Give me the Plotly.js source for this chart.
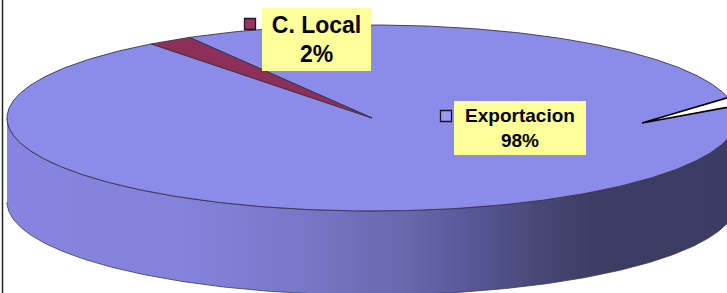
<!DOCTYPE html>
<html><head><meta charset="utf-8">
<script src="https://cdn.plot.ly/plotly-3.0.1.min.js"></script>
<style>html,body{margin:0;padding:0;background:#fff;overflow:hidden}#chart{width:727px;height:293px}</style>
</head><body><div id="chart"></div><script>
// ---- data ----
const categories = ['C. Local', 'Exportacion'];
const values = [2, 98];

// ---- style / geometry ----
const sliceColors = ['#8E2F5A', '#8B8BEA'];
const keyColors = ['#993366', '#9999FF'];
const labelBoxes = [
  {x: 316, y: 39.5, w: 109, h: 63, size: 23, key: [250, 24]},
  {x: 520, y: 128, w: 132, h: 54, size: 19, key: [446, 116]}
];
const cx = 372, cy = 118, rx = 365, ry = 93, depth = 84;
const startAngle = 120; // degrees (counter-clockwise) where the first slice begins
const edge = '#34344a';

function pt(deg, dy) {
  const t = deg * Math.PI / 180;
  return [cx + rx * Math.cos(t), cy - ry * Math.sin(t) + (dy || 0)];
}

const total = values.reduce((a, b) => a + b, 0);
const traces = [];

// side wall (front half of the disc)
const sx = [], sy = [];
for (let d = 180; d <= 360; d += 0.5) { const p = pt(d); sx.push(p[0]); sy.push(p[1]); }
for (let d = 360; d >= 180; d -= 0.5) { const p = pt(d, depth); sx.push(p[0]); sy.push(p[1]); }
traces.push({
  type: 'scatter', mode: 'lines', x: sx, y: sy, fill: 'toself',
  line: {color: '#3a3a52', width: 0.8},
  fillgradient: {type: 'horizontal', colorscale: [
    [0, '#8585DF'], [0.24, '#8383DC'], [0.40, '#7878C8'], [0.54, '#6868AE'],
    [0.63, '#58589A'], [0.72, '#494979'], [0.80, '#3D3D64'], [1, '#3C3C62']
  ]},
  hoverinfo: 'skip'
});

// top slices
let a = startAngle;
const tops = [];
values.forEach((v, i) => {
  const span = 360 * v / total;
  const xs = [cx], ys = [cy];
  const steps = Math.max(8, Math.ceil(span * 2));
  for (let k = 0; k <= steps; k++) {
    const p = pt(a + span * k / steps); xs.push(p[0]); ys.push(p[1]);
  }
  xs.push(cx); ys.push(cy);
  tops.push({
    type: 'scatter', mode: 'lines', x: xs, y: ys, fill: 'toself',
    fillcolor: sliceColors[i], line: {color: edge, width: 0.9},
    name: categories[i], hoverinfo: 'skip'
  });
  a += span;
});
// draw big slice first, small on top
traces.push(tops[1], tops[0]);

// legend keys next to labels
traces.push({
  type: 'scatter', mode: 'markers',
  x: labelBoxes.map(b => b.key[0]), y: labelBoxes.map(b => b.key[1]),
  marker: {symbol: 'square', size: 11, color: keyColors, line: {color: '#1a1a1a', width: 1.3}},
  hoverinfo: 'skip'
});

const annotations = categories.map((c, i) => ({
  x: labelBoxes[i].x, y: labelBoxes[i].y, xref: 'x', yref: 'y',
  text: '<b>' + c + '<br>' + Math.round(100 * values[i] / total) + '%</b>',
  showarrow: false, width: labelBoxes[i].w, height: labelBoxes[i].h,
  bgcolor: '#FFFF99', borderpad: 0, borderwidth: 0,
  font: {family: 'Liberation Sans, Arial, sans-serif', size: labelBoxes[i].size, color: '#000'}
}));

const layout = {
  width: 727, height: 293,
  margin: {l: 0, r: 0, t: 0, b: 0},
  paper_bgcolor: '#fff', plot_bgcolor: '#fff',
  showlegend: false, hovermode: false,
  xaxis: {range: [0, 727], visible: false, fixedrange: true},
  yaxis: {range: [293, 0], visible: false, fixedrange: true},
  annotations: annotations,
  shapes: [
    {type: 'path', xref: 'x', yref: 'y', path: 'M642,123 L740,94 L740,105 Z',
     fillcolor: '#fff', line: {color: '#000', width: 1.6}},
    {type: 'line', xref: 'x', yref: 'y', x0: 2.5, x1: 2.5, y0: 0, y1: 293,
     line: {color: '#222', width: 1.5}}
  ]
};
Plotly.newPlot('chart', traces, layout, {staticPlot: true, displayModeBar: false});
</script></body></html>
